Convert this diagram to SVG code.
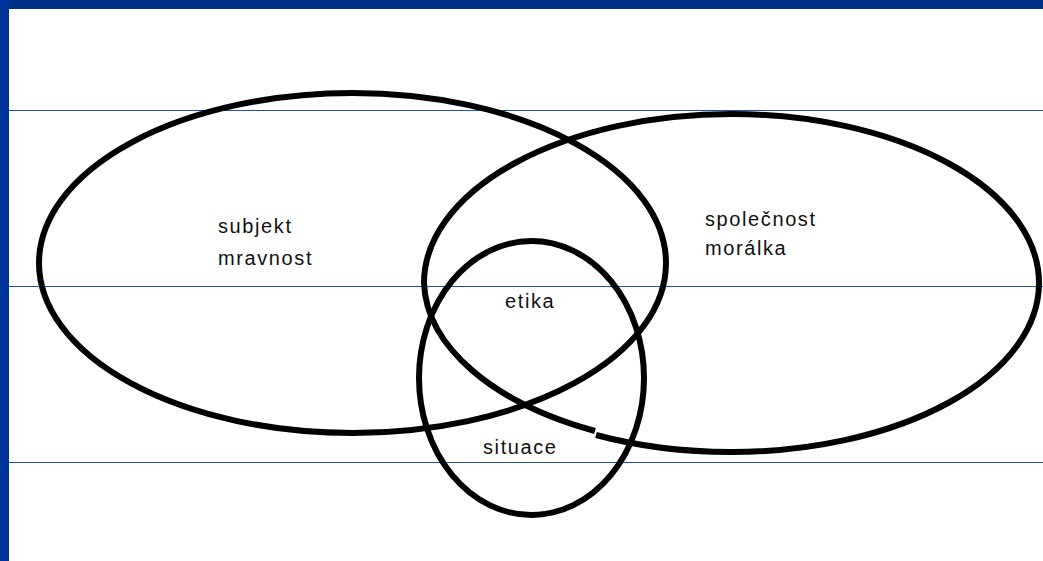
<svg xmlns="http://www.w3.org/2000/svg" width="1043" height="561" viewBox="0 0 1043 561">
  <style>
    .guide { fill: #1c4fae; }
    .ring { fill: none; stroke: #000000; stroke-width: 6; }
    .label { font-family: "Liberation Sans", Arial, sans-serif; font-size: 20px; fill: #111111; letter-spacing: 1.6px; }
  </style>
  <rect x="0" y="0" width="1043" height="561" fill="#ffffff"/>
  <g id="frame">
    <rect x="0" y="0" width="1043" height="9" fill="#002f87"/>
    <rect x="0" y="0" width="9" height="561" fill="#00339a"/>
    <rect class="guide" x="9" y="110" width="1034" height="1"/>
    <rect class="guide" x="9" y="286" width="1034" height="1"/>
    <rect class="guide" x="9" y="462" width="1034" height="1"/>
  </g>
  <g id="connectors"></g>
  <g id="node-subjekt">
    <ellipse class="ring" cx="352.5" cy="263" rx="313.5" ry="170"/>
    <text class="label" x="218" y="233">subjekt</text>
    <text class="label" x="218" y="265">mravnost</text>
  </g>
  <g id="node-spolecnost">
    <path class="ring" d="M596,435 A307.5,169 0 0 0 731.5,452 A307.5,169 0 0 0 1039,283 A307.5,169 0 0 0 731.5,114 A307.5,169 0 0 0 424,283 A307.5,169 0 0 0 595,431"/>
    <text class="label" x="705" y="226">společnost</text>
    <text class="label" x="705" y="255">morálka</text>
  </g>
  <g id="node-situace">
    <ellipse class="ring" cx="531.5" cy="378" rx="112.5" ry="137"/>
    <text class="label" x="483" y="454">situace</text>
  </g>
  <g id="node-etika">
    <text class="label" x="505" y="308">etika</text>
  </g>
</svg>
